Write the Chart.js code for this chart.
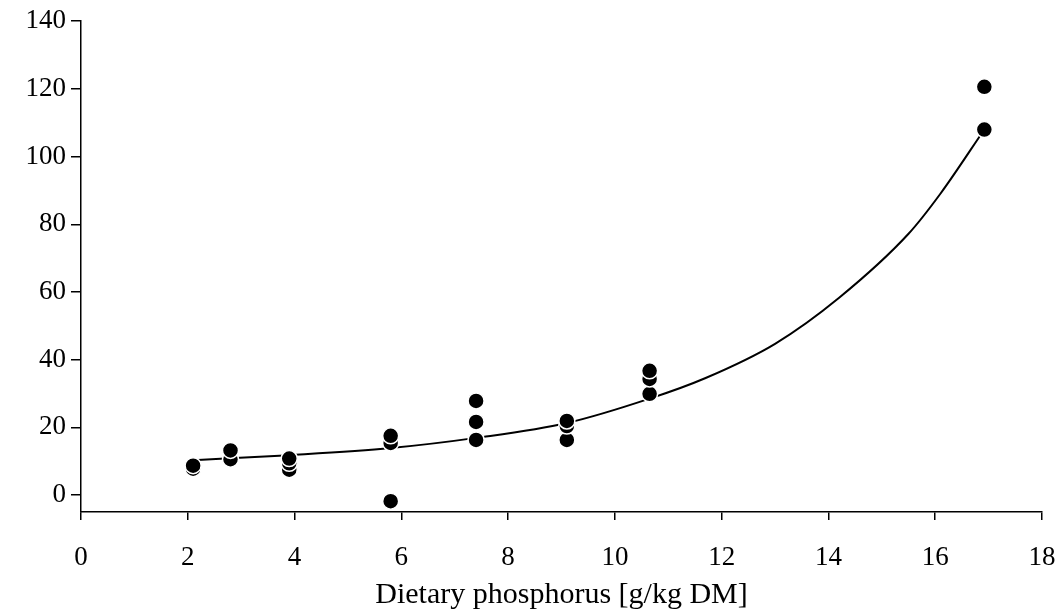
<!DOCTYPE html>
<html>
<head>
<meta charset="utf-8">
<script src="https://cdn.jsdelivr.net/npm/chart.js@4/dist/chart.umd.min.js"></script>
<style>
  html, body { margin: 0; padding: 0; background: #fff; }
  #wrap { width: 1058px; height: 610px; }
</style>
</head>
<body>
<div id="wrap"><canvas id="scatter-chart" width="1058" height="610"></canvas></div>
<script>
// measured points: dietary P (x) and response (y)
var pointX = [2.1, 2.1, 2.8, 2.8, 3.9, 3.9, 3.9, 5.8, 5.8, 5.8, 7.4, 7.4, 7.4, 9.1, 9.1, 9.1, 10.65, 10.65, 10.65, 16.92, 16.92];
var pointY = [7.8, 8.7, 10.6, 13.2, 7.5, 9.4, 10.8, -1.8, 15.4, 17.5, 16.3, 21.6, 27.8, 16.3, 20.4, 21.9, 29.9, 34.3, 36.7, 108.0, 120.6];

// fitted curve
var curveX = [2.1, 3.9, 5.8, 7.4, 9.1, 10.65, 11.7, 13.0, 14.2, 15.5, 16.1, 16.92];
var curveY = [10.3, 11.8, 13.9, 16.9, 21.3, 28.5, 34.6, 44.7, 58.3, 77.2, 89.1, 108.0];

var xTicks = [0, 2, 4, 6, 8, 10, 12, 14, 16, 18];
var yTicks = [0, 20, 40, 60, 80, 100, 120, 140];

var points = pointX.map(function (x, i) { return { x: x, y: pointY[i] }; });
var curve = curveX.map(function (x, i) { return { x: x, y: curveY[i] }; });

var serif = '"Liberation Serif", "DejaVu Serif", serif';

new Chart(document.getElementById('scatter-chart'), {
  type: 'scatter',
  data: {
    datasets: [
      {
        label: 'measured',
        data: points,
        order: 0,
        pointRadius: 8,
        pointBackgroundColor: '#000',
        pointBorderColor: '#fff',
        pointBorderWidth: 1.5
      },
      {
        label: 'fit',
        type: 'line',
        data: curve,
        order: 1,
        showLine: true,
        borderColor: '#000',
        borderWidth: 2,
        pointRadius: 0,
        fill: false,
        cubicInterpolationMode: 'monotone'
      }
    ]
  },
  options: {
    responsive: false,
    animation: false,
    layout: { padding: { top: 9, right: 0, bottom: 0, left: 0 } },
    plugins: {
      legend: { display: false },
      tooltip: { enabled: false }
    },
    scales: {
      x: {
        type: 'linear',
        min: 0,
        max: 18,
        afterBuildTicks: function (axis) {
          axis.ticks = xTicks.map(function (v) { return { value: v }; });
        },
        grid: { drawOnChartArea: false, drawTicks: true, tickLength: 8, color: '#000', lineWidth: 1.5 },
        border: { display: true, color: '#000', width: 1.5 },
        ticks: { color: '#000', font: { family: serif, size: 27 }, padding: 22, maxRotation: 0 },
        title: {
          display: true,
          text: 'Dietary phosphorus [g/kg DM]',
          color: '#000',
          font: { family: serif, size: 30 },
          padding: { top: 0, bottom: -3 }
        },
        afterFit: function (axis) {
          axis.height = 98;
          // let the "18" label run to the canvas edge
          axis.paddingRight = 16;
          axis.paddingLeft = 0;
        }
      },
      y: {
        type: 'linear',
        min: -5,
        max: 140,
        afterBuildTicks: function (axis) {
          axis.ticks = yTicks.map(function (v) { return { value: v }; });
        },
        grid: { drawOnChartArea: false, drawTicks: true, tickLength: 10, color: '#000', lineWidth: 1.5 },
        border: { display: true, color: '#000', width: 1.5 },
        ticks: { color: '#000', font: { family: serif, size: 27 }, padding: 5 },
        afterFit: function (axis) { axis.width = 81; }
      }
    }
  }
});
</script>
</body>
</html>
